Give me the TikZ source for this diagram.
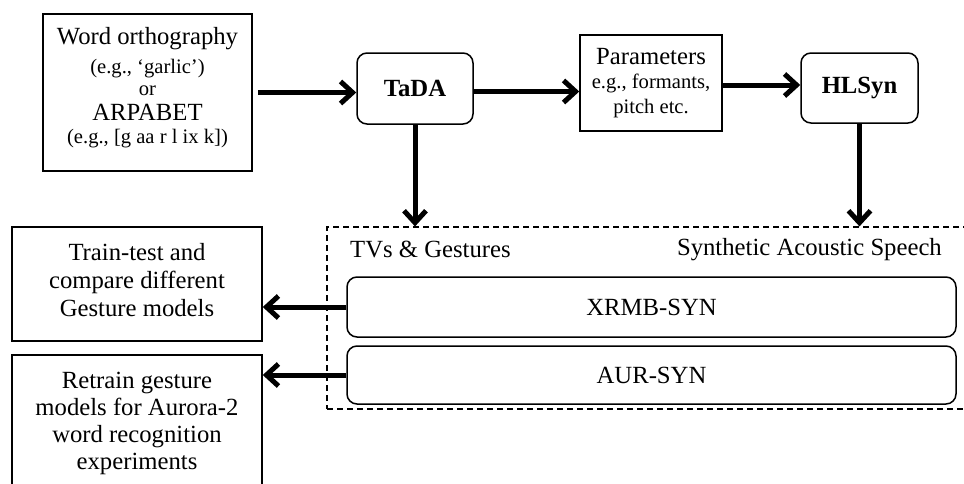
\documentclass[tikz,border=0pt]{standalone}
\usepackage{fontspec}
\setmainfont{Liberation Serif}
\usetikzlibrary{arrows.meta}
\begin{document}
\begin{tikzpicture}[x=1pt,y=-1pt,
  box/.style={draw, line width=1.5pt, inner sep=0pt, align=center},
  rbox/.style={box, rounded corners=10pt},
  txt/.style={inner sep=0pt, align=center,
    execute at begin node={\leftskip=0pt plus 1fil\rightskip=0pt plus 1fil\parfillskip=0pt\spaceskip=0pt\xspaceskip=0pt\relax}},
  big/.style={font=\fontsize{24.7}{28}\selectfont},
  flow/.style={line width=5pt, -{Straight Barb[length=12pt,width=22pt]}},
  dashbox/.style={draw, line width=1.2pt, dash pattern=on 6pt off 4pt, inner sep=0pt},
]
\useasboundingbox (0,0) rectangle (964,483);
\clip (0,0) rectangle (964,483);
\fill[white] (0,0) rectangle (964,483);

\node[box, minimum width=209pt, minimum height=157pt] (in) at (147.5,92.5) {};
\node[txt, text width=205pt] (intext) at ([yshift=5pt]in.center)
  {\fontsize{24.7}{29}\selectfont Word orthography\par
   \fontsize{20.6}{29}\selectfont (e.g., ‘garlic’)\par
   \fontsize{20.6}{22}\selectfont or\par
   \fontsize{24.7}{25.5}\selectfont ARPABET\par
   \fontsize{20.6}{23}\selectfont (e.g., [g aa r l ix k])\par};

\node[rbox, minimum width=116pt, minimum height=71pt, font=\fontsize{24.7}{28}\selectfont\bfseries] (tada) at (415,88.5) {TaDA};

\node[box, txt, minimum width=142pt, minimum height=96pt, text width=138pt] (params) at (651,83)
  {\fontsize{24.7}{28}\selectfont Parameters\par
   \fontsize{20.6}{24.5}\selectfont e.g., formants,\par
   pitch etc.\par};

\node[rbox, minimum width=117pt, minimum height=70pt, font=\fontsize{24.7}{28}\selectfont\bfseries] (hlsyn) at (859.5,88) {HLSyn};

\node[dashbox, minimum width=660pt, minimum height=182pt] (syn) at (657,318) {};

\node[big, anchor=west, inner sep=0pt] (tvs) at (350,249) {TVs \& Gestures};
\node[big, anchor=east, inner sep=0pt] (sas) at (942,250) {Synthetic Acoustic Speech};

\node[rbox, big, minimum width=609pt, minimum height=60pt] (xrmb) at (651.5,307) {XRMB-SYN};
\node[rbox, big, minimum width=609pt, minimum height=58pt] (aur) at (651.5,375) {AUR-SYN};

\node[box, minimum width=250pt, minimum height=114pt] (train) at (137,284) {};
\node[txt, text width=246pt, font=\fontsize{24.7}{28}\selectfont] (traintext) at ([yshift=4pt]train.center)
  {Train-test and\\compare different\\Gesture models};
\node[box, txt, minimum width=250pt, minimum height=136pt, text width=246pt, font=\fontsize{24.7}{27}\selectfont] (retrain) at (137,423)
  {Retrain gesture\\models for Aurora-2\\word recognition\\experiments};

\draw[flow, shorten <=5pt] (in.east) -- (in.east -| tada.west);
\draw[flow] ([yshift=-3pt]tada.east) -- ([yshift=-3pt]tada.east -| params.west);
\draw[flow] ([yshift=-2pt]params.east) -- ([yshift=-2pt]params.east -| hlsyn.west);
\draw[flow] (tada.south) -- (tada.south |- syn.north);
\draw[flow] (hlsyn.south) -- (hlsyn.south |- syn.north);
\draw[flow] (xrmb.west) -- (xrmb.west -| train.east);
\draw[flow] (aur.west) -- (aur.west -| retrain.east);
\end{tikzpicture}
\end{document}
